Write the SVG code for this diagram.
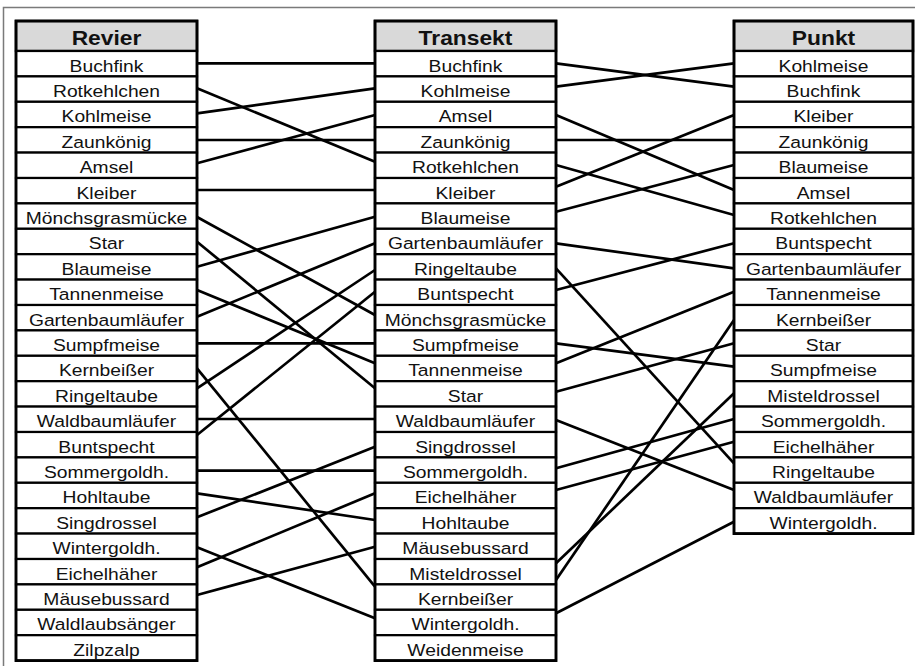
<svg xmlns="http://www.w3.org/2000/svg" width="915" height="666" viewBox="0 0 915 666">
<style>
.frame{fill:none;stroke:#7a7a7a;stroke-width:1.5}
.hd{fill:#d9d9d9;stroke:#000;stroke-width:2.4}
.row{fill:#fff;stroke:#000;stroke-width:2.2}
.out{fill:none;stroke:#000;stroke-width:2.8}
.ht{font-family:"Liberation Sans",Arial,sans-serif;font-weight:bold;font-size:20px;text-anchor:middle;fill:#111}
.t{font-family:"Liberation Sans",Arial,sans-serif;font-size:17.2px;text-anchor:middle;fill:#111}
#connectors line{stroke:#000;stroke-width:2.7;stroke-linecap:butt}
</style>
<rect width="915" height="666" fill="#fff"/>
<path class="frame" d="M3.5 670 V7.5 H920"/>

<g id="connectors">
<line x1="197" y1="63.3" x2="375" y2="63.3"/>
<line x1="197" y1="88.3" x2="375" y2="161.7"/>
<line x1="197" y1="113.3" x2="375" y2="88.3"/>
<line x1="197" y1="140" x2="375" y2="140"/>
<line x1="197" y1="163.3" x2="375" y2="115"/>
<line x1="197" y1="190" x2="375" y2="190"/>
<line x1="197" y1="217" x2="375" y2="315"/>
<line x1="197" y1="241.7" x2="375" y2="388.3"/>
<line x1="197" y1="266.7" x2="375" y2="216.7"/>
<line x1="197" y1="290" x2="375" y2="363.3"/>
<line x1="197" y1="316.7" x2="375" y2="243.3"/>
<line x1="197" y1="343.3" x2="375" y2="343.3"/>
<line x1="197" y1="368.3" x2="375" y2="586.7"/>
<line x1="197" y1="388.3" x2="375" y2="270"/>
<line x1="197" y1="419" x2="375" y2="419"/>
<line x1="197" y1="435" x2="375" y2="291.7"/>
<line x1="197" y1="470.7" x2="375" y2="470.7"/>
<line x1="197" y1="493.3" x2="375" y2="520"/>
<line x1="197" y1="517.3" x2="375" y2="446.7"/>
<line x1="197" y1="547.3" x2="375" y2="618.3"/>
<line x1="197" y1="567.3" x2="375" y2="493.3"/>
<line x1="197" y1="595" x2="375" y2="546.7"/>

<line x1="556" y1="63.3" x2="734" y2="86.7"/>
<line x1="556" y1="86.7" x2="734" y2="63.3"/>
<line x1="556" y1="115" x2="734" y2="190"/>
<line x1="556" y1="140" x2="734" y2="140"/>
<line x1="556" y1="165" x2="734" y2="215"/>
<line x1="556" y1="186.7" x2="734" y2="115"/>
<line x1="556" y1="211.7" x2="734" y2="165"/>
<line x1="556" y1="243.3" x2="734" y2="268.3"/>
<line x1="556" y1="268.3" x2="734" y2="463.3"/>
<line x1="556" y1="290" x2="734" y2="243.3"/>
<line x1="556" y1="343.3" x2="734" y2="366.7"/>
<line x1="556" y1="363.3" x2="734" y2="291.7"/>
<line x1="556" y1="391.7" x2="734" y2="343.3"/>
<line x1="556" y1="420" x2="734" y2="490"/>
<line x1="556" y1="468.3" x2="734" y2="419"/>
<line x1="556" y1="490" x2="734" y2="441.7"/>
<line x1="556" y1="563.3" x2="734" y2="393.3"/>
<line x1="556" y1="580" x2="734" y2="320"/>
<line x1="556" y1="613.3" x2="734" y2="521.7"/>
</g>

<g id="revier">
<g id="revier-header"><rect class="hd" x="16" y="21" width="181" height="30"/><text class="ht" transform="translate(106.5,45) scale(1.14,1)">Revier</text></g>
<g id="revier-buchfink"><rect class="row" x="16" y="51" width="181" height="25.4"/><text class="t" transform="translate(106.5,71.5) scale(1.12,1)">Buchfink</text></g>
<g id="revier-rotkehlchen"><rect class="row" x="16" y="76.4" width="181" height="25.4"/><text class="t" transform="translate(106.5,96.9) scale(1.12,1)">Rotkehlchen</text></g>
<g id="revier-kohlmeise"><rect class="row" x="16" y="101.8" width="181" height="25.4"/><text class="t" transform="translate(106.5,122.3) scale(1.12,1)">Kohlmeise</text></g>
<g id="revier-zaunkoenig"><rect class="row" x="16" y="127.2" width="181" height="25.4"/><text class="t" transform="translate(106.5,147.7) scale(1.12,1)">Zaunkönig</text></g>
<g id="revier-amsel"><rect class="row" x="16" y="152.6" width="181" height="25.4"/><text class="t" transform="translate(106.5,173.1) scale(1.12,1)">Amsel</text></g>
<g id="revier-kleiber"><rect class="row" x="16" y="178" width="181" height="25.4"/><text class="t" transform="translate(106.5,198.5) scale(1.12,1)">Kleiber</text></g>
<g id="revier-moenchsgrasmuecke"><rect class="row" x="16" y="203.4" width="181" height="25.4"/><text class="t" transform="translate(106.5,223.9) scale(1.12,1)">Mönchsgrasmücke</text></g>
<g id="revier-star"><rect class="row" x="16" y="228.8" width="181" height="25.4"/><text class="t" transform="translate(106.5,249.3) scale(1.12,1)">Star</text></g>
<g id="revier-blaumeise"><rect class="row" x="16" y="254.2" width="181" height="25.4"/><text class="t" transform="translate(106.5,274.7) scale(1.12,1)">Blaumeise</text></g>
<g id="revier-tannenmeise"><rect class="row" x="16" y="279.6" width="181" height="25.4"/><text class="t" transform="translate(106.5,300.1) scale(1.12,1)">Tannenmeise</text></g>
<g id="revier-gartenbaumlaeufer"><rect class="row" x="16" y="305" width="181" height="25.4"/><text class="t" transform="translate(106.5,325.5) scale(1.12,1)">Gartenbaumläufer</text></g>
<g id="revier-sumpfmeise"><rect class="row" x="16" y="330.4" width="181" height="25.4"/><text class="t" transform="translate(106.5,350.9) scale(1.12,1)">Sumpfmeise</text></g>
<g id="revier-kernbeisser"><rect class="row" x="16" y="355.8" width="181" height="25.4"/><text class="t" transform="translate(106.5,376.3) scale(1.12,1)">Kernbeißer</text></g>
<g id="revier-ringeltaube"><rect class="row" x="16" y="381.2" width="181" height="25.4"/><text class="t" transform="translate(106.5,401.7) scale(1.12,1)">Ringeltaube</text></g>
<g id="revier-waldbaumlaeufer"><rect class="row" x="16" y="406.6" width="181" height="25.4"/><text class="t" transform="translate(106.5,427.1) scale(1.12,1)">Waldbaumläufer</text></g>
<g id="revier-buntspecht"><rect class="row" x="16" y="432" width="181" height="25.4"/><text class="t" transform="translate(106.5,452.5) scale(1.12,1)">Buntspecht</text></g>
<g id="revier-sommergoldh"><rect class="row" x="16" y="457.4" width="181" height="25.4"/><text class="t" transform="translate(106.5,477.9) scale(1.12,1)">Sommergoldh.</text></g>
<g id="revier-hohltaube"><rect class="row" x="16" y="482.8" width="181" height="25.4"/><text class="t" transform="translate(106.5,503.3) scale(1.12,1)">Hohltaube</text></g>
<g id="revier-singdrossel"><rect class="row" x="16" y="508.2" width="181" height="25.4"/><text class="t" transform="translate(106.5,528.7) scale(1.12,1)">Singdrossel</text></g>
<g id="revier-wintergoldh"><rect class="row" x="16" y="533.6" width="181" height="25.4"/><text class="t" transform="translate(106.5,554.1) scale(1.12,1)">Wintergoldh.</text></g>
<g id="revier-eichelhaeher"><rect class="row" x="16" y="559" width="181" height="25.4"/><text class="t" transform="translate(106.5,579.5) scale(1.12,1)">Eichelhäher</text></g>
<g id="revier-maeusebussard"><rect class="row" x="16" y="584.4" width="181" height="25.4"/><text class="t" transform="translate(106.5,604.9) scale(1.12,1)">Mäusebussard</text></g>
<g id="revier-waldlaubsaenger"><rect class="row" x="16" y="609.8" width="181" height="25.4"/><text class="t" transform="translate(106.5,630.3) scale(1.12,1)">Waldlaubsänger</text></g>
<g id="revier-zilpzalp"><rect class="row" x="16" y="635.2" width="181" height="25.4"/><text class="t" transform="translate(106.5,655.7) scale(1.12,1)">Zilpzalp</text></g>
<rect class="out" x="16" y="21" width="181" height="639.6"/>
</g>

<g id="transekt">
<g id="transekt-header"><rect class="hd" x="375" y="21" width="181" height="30"/><text class="ht" transform="translate(465.5,45) scale(1.14,1)">Transekt</text></g>
<g id="transekt-buchfink"><rect class="row" x="375" y="51" width="181" height="25.4"/><text class="t" transform="translate(465.5,71.5) scale(1.12,1)">Buchfink</text></g>
<g id="transekt-kohlmeise"><rect class="row" x="375" y="76.4" width="181" height="25.4"/><text class="t" transform="translate(465.5,96.9) scale(1.12,1)">Kohlmeise</text></g>
<g id="transekt-amsel"><rect class="row" x="375" y="101.8" width="181" height="25.4"/><text class="t" transform="translate(465.5,122.3) scale(1.12,1)">Amsel</text></g>
<g id="transekt-zaunkoenig"><rect class="row" x="375" y="127.2" width="181" height="25.4"/><text class="t" transform="translate(465.5,147.7) scale(1.12,1)">Zaunkönig</text></g>
<g id="transekt-rotkehlchen"><rect class="row" x="375" y="152.6" width="181" height="25.4"/><text class="t" transform="translate(465.5,173.1) scale(1.12,1)">Rotkehlchen</text></g>
<g id="transekt-kleiber"><rect class="row" x="375" y="178" width="181" height="25.4"/><text class="t" transform="translate(465.5,198.5) scale(1.12,1)">Kleiber</text></g>
<g id="transekt-blaumeise"><rect class="row" x="375" y="203.4" width="181" height="25.4"/><text class="t" transform="translate(465.5,223.9) scale(1.12,1)">Blaumeise</text></g>
<g id="transekt-gartenbaumlaeufer"><rect class="row" x="375" y="228.8" width="181" height="25.4"/><text class="t" transform="translate(465.5,249.3) scale(1.12,1)">Gartenbaumläufer</text></g>
<g id="transekt-ringeltaube"><rect class="row" x="375" y="254.2" width="181" height="25.4"/><text class="t" transform="translate(465.5,274.7) scale(1.12,1)">Ringeltaube</text></g>
<g id="transekt-buntspecht"><rect class="row" x="375" y="279.6" width="181" height="25.4"/><text class="t" transform="translate(465.5,300.1) scale(1.12,1)">Buntspecht</text></g>
<g id="transekt-moenchsgrasmuecke"><rect class="row" x="375" y="305" width="181" height="25.4"/><text class="t" transform="translate(465.5,325.5) scale(1.12,1)">Mönchsgrasmücke</text></g>
<g id="transekt-sumpfmeise"><rect class="row" x="375" y="330.4" width="181" height="25.4"/><text class="t" transform="translate(465.5,350.9) scale(1.12,1)">Sumpfmeise</text></g>
<g id="transekt-tannenmeise"><rect class="row" x="375" y="355.8" width="181" height="25.4"/><text class="t" transform="translate(465.5,376.3) scale(1.12,1)">Tannenmeise</text></g>
<g id="transekt-star"><rect class="row" x="375" y="381.2" width="181" height="25.4"/><text class="t" transform="translate(465.5,401.7) scale(1.12,1)">Star</text></g>
<g id="transekt-waldbaumlaeufer"><rect class="row" x="375" y="406.6" width="181" height="25.4"/><text class="t" transform="translate(465.5,427.1) scale(1.12,1)">Waldbaumläufer</text></g>
<g id="transekt-singdrossel"><rect class="row" x="375" y="432" width="181" height="25.4"/><text class="t" transform="translate(465.5,452.5) scale(1.12,1)">Singdrossel</text></g>
<g id="transekt-sommergoldh"><rect class="row" x="375" y="457.4" width="181" height="25.4"/><text class="t" transform="translate(465.5,477.9) scale(1.12,1)">Sommergoldh.</text></g>
<g id="transekt-eichelhaeher"><rect class="row" x="375" y="482.8" width="181" height="25.4"/><text class="t" transform="translate(465.5,503.3) scale(1.12,1)">Eichelhäher</text></g>
<g id="transekt-hohltaube"><rect class="row" x="375" y="508.2" width="181" height="25.4"/><text class="t" transform="translate(465.5,528.7) scale(1.12,1)">Hohltaube</text></g>
<g id="transekt-maeusebussard"><rect class="row" x="375" y="533.6" width="181" height="25.4"/><text class="t" transform="translate(465.5,554.1) scale(1.12,1)">Mäusebussard</text></g>
<g id="transekt-misteldrossel"><rect class="row" x="375" y="559" width="181" height="25.4"/><text class="t" transform="translate(465.5,579.5) scale(1.12,1)">Misteldrossel</text></g>
<g id="transekt-kernbeisser"><rect class="row" x="375" y="584.4" width="181" height="25.4"/><text class="t" transform="translate(465.5,604.9) scale(1.12,1)">Kernbeißer</text></g>
<g id="transekt-wintergoldh"><rect class="row" x="375" y="609.8" width="181" height="25.4"/><text class="t" transform="translate(465.5,630.3) scale(1.12,1)">Wintergoldh.</text></g>
<g id="transekt-weidenmeise"><rect class="row" x="375" y="635.2" width="181" height="25.4"/><text class="t" transform="translate(465.5,655.7) scale(1.12,1)">Weidenmeise</text></g>
<rect class="out" x="375" y="21" width="181" height="639.6"/>
</g>

<g id="punkt">
<g id="punkt-header"><rect class="hd" x="734" y="21" width="179" height="30"/><text class="ht" transform="translate(823.5,45) scale(1.14,1)">Punkt</text></g>
<g id="punkt-kohlmeise"><rect class="row" x="734" y="51" width="179" height="25.4"/><text class="t" transform="translate(823.5,71.5) scale(1.12,1)">Kohlmeise</text></g>
<g id="punkt-buchfink"><rect class="row" x="734" y="76.4" width="179" height="25.4"/><text class="t" transform="translate(823.5,96.9) scale(1.12,1)">Buchfink</text></g>
<g id="punkt-kleiber"><rect class="row" x="734" y="101.8" width="179" height="25.4"/><text class="t" transform="translate(823.5,122.3) scale(1.12,1)">Kleiber</text></g>
<g id="punkt-zaunkoenig"><rect class="row" x="734" y="127.2" width="179" height="25.4"/><text class="t" transform="translate(823.5,147.7) scale(1.12,1)">Zaunkönig</text></g>
<g id="punkt-blaumeise"><rect class="row" x="734" y="152.6" width="179" height="25.4"/><text class="t" transform="translate(823.5,173.1) scale(1.12,1)">Blaumeise</text></g>
<g id="punkt-amsel"><rect class="row" x="734" y="178" width="179" height="25.4"/><text class="t" transform="translate(823.5,198.5) scale(1.12,1)">Amsel</text></g>
<g id="punkt-rotkehlchen"><rect class="row" x="734" y="203.4" width="179" height="25.4"/><text class="t" transform="translate(823.5,223.9) scale(1.12,1)">Rotkehlchen</text></g>
<g id="punkt-buntspecht"><rect class="row" x="734" y="228.8" width="179" height="25.4"/><text class="t" transform="translate(823.5,249.3) scale(1.12,1)">Buntspecht</text></g>
<g id="punkt-gartenbaumlaeufer"><rect class="row" x="734" y="254.2" width="179" height="25.4"/><text class="t" transform="translate(823.5,274.7) scale(1.12,1)">Gartenbaumläufer</text></g>
<g id="punkt-tannenmeise"><rect class="row" x="734" y="279.6" width="179" height="25.4"/><text class="t" transform="translate(823.5,300.1) scale(1.12,1)">Tannenmeise</text></g>
<g id="punkt-kernbeisser"><rect class="row" x="734" y="305" width="179" height="25.4"/><text class="t" transform="translate(823.5,325.5) scale(1.12,1)">Kernbeißer</text></g>
<g id="punkt-star"><rect class="row" x="734" y="330.4" width="179" height="25.4"/><text class="t" transform="translate(823.5,350.9) scale(1.12,1)">Star</text></g>
<g id="punkt-sumpfmeise"><rect class="row" x="734" y="355.8" width="179" height="25.4"/><text class="t" transform="translate(823.5,376.3) scale(1.12,1)">Sumpfmeise</text></g>
<g id="punkt-misteldrossel"><rect class="row" x="734" y="381.2" width="179" height="25.4"/><text class="t" transform="translate(823.5,401.7) scale(1.12,1)">Misteldrossel</text></g>
<g id="punkt-sommergoldh"><rect class="row" x="734" y="406.6" width="179" height="25.4"/><text class="t" transform="translate(823.5,427.1) scale(1.12,1)">Sommergoldh.</text></g>
<g id="punkt-eichelhaeher"><rect class="row" x="734" y="432" width="179" height="25.4"/><text class="t" transform="translate(823.5,452.5) scale(1.12,1)">Eichelhäher</text></g>
<g id="punkt-ringeltaube"><rect class="row" x="734" y="457.4" width="179" height="25.4"/><text class="t" transform="translate(823.5,477.9) scale(1.12,1)">Ringeltaube</text></g>
<g id="punkt-waldbaumlaeufer"><rect class="row" x="734" y="482.8" width="179" height="25.4"/><text class="t" transform="translate(823.5,503.3) scale(1.12,1)">Waldbaumläufer</text></g>
<g id="punkt-wintergoldh"><rect class="row" x="734" y="508.2" width="179" height="25.4"/><text class="t" transform="translate(823.5,528.7) scale(1.12,1)">Wintergoldh.</text></g>
<rect class="out" x="734" y="21" width="179" height="512.6"/>
</g>
</svg>
